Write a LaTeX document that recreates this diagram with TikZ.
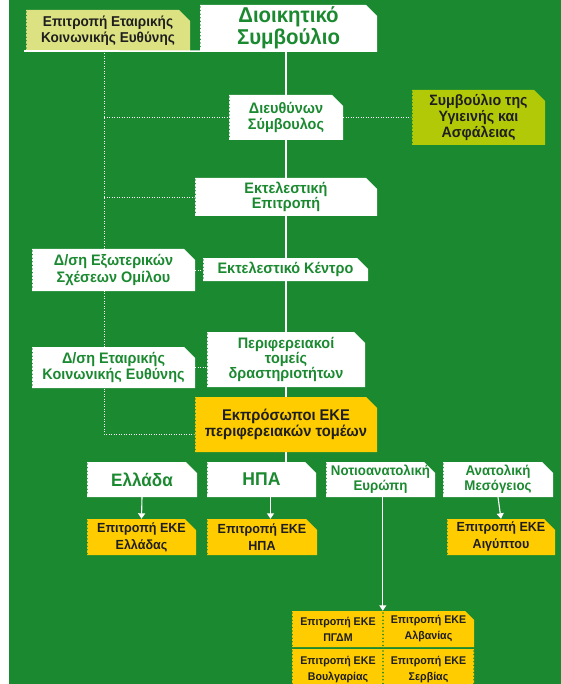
\documentclass[tikz,border=0pt]{standalone}
\usepackage{fontspec}
\setmainfont{Liberation Sans}[FakeStretch=0.95]
\usetikzlibrary{arrows.meta}
\definecolor{bg}{RGB}{27,137,48}
\definecolor{ylw}{RGB}{255,204,0}
\definecolor{lime}{RGB}{178,201,8}
\definecolor{pale}{RGB}{220,226,130}
\definecolor{ink}{RGB}{30,30,30}
\pgfdeclarelayer{back}\pgfdeclarelayer{conn}\pgfsetlayers{back,conn,main}
\def\cutc{11}
\newcommand\ebox[8]{%
  \fill[#6] (#2,#3) -- ({#4-\cutc},#3) -- (#4,{#3+\cutc}) -- (#4,#5) -- (#2,#5) -- cycle;
  \pgfmathtruncatemacro\perfn{(#5-#3-3)/3.6}%
  \foreach \k in {0,...,\perfn}{\fill[bg] ({#2},{#3+2+3.6*\k}) circle (0.9pt);}%
  \node[inner sep=0pt, minimum width={(#4-#2)*1pt}, minimum height={(#5-#3)*1pt}, align=center, #7] (#1) at ({(#2+#4)/2},{(#3+#5)/2}) {#8};%
}
\tikzset{
  tg/.style={text=bg, font=\bfseries\fontsize{15.2}{15.5}\selectfont},
  tgbig/.style={text=bg, font=\bfseries\fontsize{21.5}{19.5}\selectfont},
  tgrow/.style={text=bg, font=\bfseries\fontsize{14}{15}\selectfont},
  td/.style={text=ink, font=\bfseries\fontsize{15}{16}\selectfont},
  tdsm/.style={text=ink, font=\bfseries\fontsize{13.2}{17}\selectfont},
  tdgrid/.style={text=ink, font=\bfseries\fontsize{11.2}{16}\selectfont},
  solidln/.style={draw=white, line width=1.3pt},
  dotln/.style={draw=white, line width=0.9pt, dash pattern=on 0.9pt off 1.6pt},
  arr/.style={draw=white, line width=1.1pt, -{Triangle[width=7pt,length=5.5pt]}}
}
\begin{document}
\begin{tikzpicture}[x=1pt,y=-1pt]
\useasboundingbox (0,0) rectangle (561,684);
\begin{pgfonlayer}{back}
  \fill[white] (0,0) rectangle (561,684);
  \fill[bg] (9,0) rectangle (561,684);
\end{pgfonlayer}
% boxes
\ebox{csr}{26}{10}{190}{51}{pale}{td, font=\bfseries\fontsize{14.3}{16.5}\selectfont}{Επιτροπή Εταιρικής\\Κοινωνικής Ευθύνης}
\ebox{board}{200}{5}{377}{51}{white}{tgbig}{Διοικητικό\\Συμβούλιο}
\ebox{ceo}{229}{95}{343}{140}{white}{tg, font=\bfseries\fontsize{15.2}{16}\selectfont}{Διευθύνων\\Σύμβουλος}
\ebox{hs}{412}{90}{545}{145}{lime}{td}{Συμβούλιο της\\Υγιεινής και\\Ασφάλειας}
\ebox{exec}{195}{178}{377}{216}{white}{tg}{Εκτελεστική\\Επιτροπή}
\ebox{ext}{32}{249}{195}{291}{white}{tg, font=\bfseries\fontsize{15.2}{16.5}\selectfont}{Δ/ση Εξωτερικών\\Σχέσεων Ομίλου}
\ebox{ctr}{203}{258}{368}{281}{white}{tg}{Εκτελεστικό Κέντρο}
\ebox{csrd}{32}{347}{195}{388}{white}{tg, font=\bfseries\fontsize{15.2}{16.5}\selectfont}{Δ/ση Εταιρικής\\Κοινωνικής Ευθύνης}
\ebox{reg}{207}{332}{365}{387}{white}{tg, font=\bfseries\fontsize{15.2}{14}\selectfont}{Περιφερειακοί\\τομείς\\δραστηριοτήτων}
\ebox{reps}{195}{397}{377}{452}{ylw}{td, font=\bfseries\fontsize{15.5}{14.5}\selectfont}{Εκπρόσωποι ΕΚΕ\\περιφερειακών τομέων}
\ebox{gr}{87}{462}{197}{497}{white}{tgbig, font=\bfseries\fontsize{18}{20}\selectfont}{Ελλάδα}
\ebox{usa}{207}{462}{316}{497}{white}{tgbig, font=\bfseries\fontsize{18.5}{20}\selectfont}{ΗΠΑ}
\ebox{see}{326}{462}{435}{497}{white}{tgrow}{Νοτιοανατολική\\Ευρώπη}
\ebox{em}{443}{462}{553}{497}{white}{tgrow}{Ανατολική\\Μεσόγειος}
\ebox{kgr}{87}{519}{196}{555}{ylw}{tdsm}{Επιτροπή ΕΚΕ\\Ελλάδας}
\ebox{kusa}{207}{519}{317}{555}{ylw}{tdsm}{Επιτροπή ΕΚΕ\\ΗΠΑ}
\ebox{keg}{447}{519}{555}{555}{ylw}{tdsm}{Επιτροπή ΕΚΕ\\Αιγύπτου}
% grid
\def\cutc{0}
\ebox{tl}{292}{611}{384}{647}{ylw}{tdgrid}{Επιτροπή ΕΚΕ\\ΠΓΔΜ}
\ebox{bl}{292}{649}{384}{690}{ylw}{tdgrid}{Επιτροπή ΕΚΕ\\Βουλγαρίας}
\ebox{br}{383}{649}{474}{690}{ylw}{tdgrid}{Επιτροπή ΕΚΕ\\Σερβίας}
\def\cutc{9}
\ebox{tr}{383}{611}{474}{647}{ylw}{tdgrid}{Επιτροπή ΕΚΕ\\Αλβανίας}
\foreach \k in {0,...,9}{\fill[bg] (474,{651+3.6*\k}) circle (0.9pt);}
% connectors
\begin{pgfonlayer}{conn}
  \coordinate (sp) at (286,51);
  \coordinate (tlft) at (24,51);
  \coordinate (dl) at (104,51);
  \draw[solidln] (sp) -- (sp |- usa.north);
  \draw[dotln] (dl) |- ([yshift=-9.5pt]reps.west);
  \draw[dotln] (dl |- ceo.west) -- (ceo.west);
  \draw[dotln] (ceo.east) -- (hs.west);
  \draw[dotln] (dl |- exec.west) -- (exec.west);
  \draw[dotln] (ext.east) -- (ctr.west |- ext.east);
  \draw[dotln] (csrd.east) -- (reg.west |- csrd.east);
\end{pgfonlayer}
\draw[white, line width=1.6pt] (tlft) -- (board.south east);
\draw[arr] (gr.south) -- (kgr.north);
\draw[arr] ([xshift=9pt]usa.south) -- ([xshift=9pt]usa.south |- kusa.north);
\draw[arr] (em.south) -- (keg.north);
\draw[arr] (see.south -| tr.west) -- (tr.north west);
\end{tikzpicture}
\end{document}
